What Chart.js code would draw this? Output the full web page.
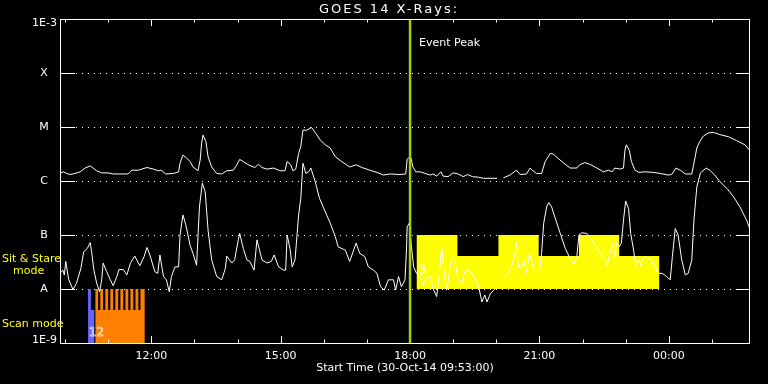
<!DOCTYPE html>
<html>
<head>
<meta charset="utf-8">
<script src="https://cdn.jsdelivr.net/npm/chart.js@4/dist/chart.umd.min.js"></script>
<style>
  html, body { margin: 0; padding: 0; background: #000; }
  canvas { display: block; background: #000; }
</style>
</head>
<body>
<canvas id="goes" width="768" height="384"></canvas>
<script>
// GOES 14 X-ray flux, 30-Oct-14 09:53 UT start. values are log10(W/m^2)
// long channel (1-8 A)
const longTimes = [
  '09:53','09:58','10:02','10:07','10:14','10:21','10:28','10:35','10:39','10:44',
  '10:51','11:00','11:07','11:16','11:28','11:33','11:42','11:54','12:03','12:10',
  '12:14','12:20','12:31','12:38','12:40','12:44','12:48','12:54','12:58','13:05',
  '13:08','13:10','13:12','13:16','13:19','13:24','13:31','13:38','13:45','13:54',
  '13:59','14:03','14:08','14:15','14:24','14:29','14:34','14:41','14:50','14:59',
  '15:06','15:09','15:14','15:17','15:21','15:25','15:28','15:31','15:36','15:43',
  '15:49','15:55','16:02','16:09','16:16','16:25','16:36','16:45','16:53','17:04',
  '17:14','17:23','17:32','17:46','17:54','17:56','17:58','18:01','18:04','18:08',
  '18:14','18:21','18:28','18:32','18:37','18:43','18:46','18:53','19:00','19:07',
  '19:14','19:20','19:27','19:35','19:42','20:01','20:05','20:10','20:19','20:28',
  '20:33','20:42','20:47','20:51','20:56','21:03','21:08','21:15','21:19','21:26',
  '21:33','21:43','21:52','21:56','22:03','22:10','22:20','22:29','22:36','22:41',
  '22:45','22:52','22:57','22:59','23:01','23:05','23:08','23:13','23:18','23:27',
  '23:38','23:48','23:59','00:04','00:10','00:16','00:23','00:32','00:35','00:39',
  '00:43','00:48','00:55','01:02','01:11','01:23','01:34','01:46','01:53'
];
const longLog = [
  -5.85,-5.83,-5.86,-5.88,-5.86,-5.83,-5.76,-5.72,-5.76,-5.81,
  -5.85,-5.85,-5.87,-5.87,-5.87,-5.80,-5.80,-5.75,-5.78,-5.81,
  -5.80,-5.87,-5.86,-5.83,-5.67,-5.52,-5.56,-5.64,-5.74,-5.81,
  -5.61,-5.30,-5.15,-5.27,-5.55,-5.74,-5.86,-5.87,-5.81,-5.80,
  -5.70,-5.60,-5.64,-5.70,-5.75,-5.69,-5.75,-5.78,-5.76,-5.81,
  -5.81,-5.64,-5.70,-5.81,-5.78,-5.49,-5.36,-5.06,-5.06,-5.01,
  -5.12,-5.24,-5.33,-5.39,-5.55,-5.64,-5.74,-5.70,-5.75,-5.80,
  -5.84,-5.89,-5.87,-5.88,-5.87,-5.60,-5.57,-5.56,-5.74,-5.83,
  -5.83,-5.86,-5.89,-5.87,-5.91,-5.83,-5.91,-5.92,-5.85,-5.87,
  -5.92,-5.88,-5.92,-5.93,-5.95,-5.95,null,-5.94,-5.89,-5.80,
  -5.88,-5.87,-5.76,-5.81,-5.86,-5.86,-5.64,-5.49,-5.50,-5.58,
  -5.66,-5.76,-5.76,-5.70,-5.66,-5.69,-5.76,-5.83,-5.80,-5.83,
  -5.76,-5.78,-5.76,-5.43,-5.33,-5.43,-5.64,-5.80,-5.84,-5.83,
  -5.84,-5.86,-5.89,-5.88,-5.76,-5.80,-5.87,-5.87,-5.67,-5.39,
  -5.27,-5.17,-5.11,-5.10,-5.14,-5.18,-5.25,-5.33,-5.44
];

// short channel (0.5-4 A)
const shortTimes = [
  '09:53','09:57','09:59','10:01','10:05','10:11','10:16','10:22','10:26','10:31',
  '10:35','10:37','10:40','10:44','10:48','10:51','10:53','10:58','11:03','11:07',
  '11:12','11:15','11:21','11:26','11:31','11:37','11:44','11:50','11:54','11:58',
  '12:05','12:09','12:12','12:17','12:21','12:25','12:28','12:33','12:38','12:40',
  '12:44','12:48','12:54','12:58','13:03','13:07','13:11','13:15','13:19','13:24',
  '13:31','13:38','13:43','13:45','13:52','13:56','14:01','14:03','14:08','14:13',
  '14:17','14:23','14:27','14:34','14:41','14:47','14:51','14:57','15:04','15:07',
  '15:09','15:13','15:16','15:20','15:25','15:28','15:31','15:35','15:39','15:42',
  '15:48','15:54','16:02','16:09','16:16','16:20','16:30','16:36','16:45','16:50',
  '16:57','17:02','17:09','17:14','17:19','17:24','17:30','17:37','17:40','17:44',
  '17:48','17:53','17:55','17:56','17:59','18:02','18:05','18:09','18:14','18:18',
  '18:23','18:28','18:32','18:37','18:41','18:44','18:47','18:51','18:56','18:58',
  '19:03','19:07','19:12','19:16','19:21','19:26','19:30','19:35','19:40','19:44',
  '19:47','19:52','19:57','20:01','20:05','20:10','20:17','20:21','20:26','20:28',
  '20:31','20:35','20:39','20:42','20:46','20:49','20:52','20:56','21:00','21:03',
  '21:06','21:10','21:13','21:17','21:22','21:29','21:36','21:43','21:48','21:52',
  '21:55','21:59','22:06','22:13','22:20','22:27','22:31','22:34','22:38','22:42',
  '22:45','22:47','22:51','22:54','22:57','23:00','23:04','23:07','23:11','23:14',
  '23:18','23:21','23:25','23:30','23:34','23:41','23:45','23:51','23:57','00:02',
  '00:05','00:09','00:13','00:18','00:23','00:27','00:32','00:35','00:39','00:44',
  '00:52','00:57','01:04','01:11','01:21','01:30','01:39','01:48','01:53'
];
const shortLog = [
  -7.71,-7.65,-7.74,-7.49,-7.82,-8.01,-7.89,-7.62,-7.31,-7.25,
  -7.14,-7.31,-7.64,-7.89,-8.05,-7.83,-7.52,-7.68,-7.83,-7.94,
  -7.77,-7.64,-7.64,-7.74,-7.52,-7.39,-7.57,-7.40,-7.23,-7.37,
  -7.68,-7.71,-7.37,-7.77,-7.83,-8.05,-7.77,-7.59,-7.59,-7.00,
  -6.63,-6.81,-7.19,-7.34,-7.56,-6.48,-6.04,-6.20,-6.91,-7.46,
  -7.77,-7.83,-7.62,-7.39,-7.52,-7.46,-7.09,-6.97,-7.25,-7.46,
  -7.49,-7.65,-7.09,-7.46,-7.52,-7.49,-7.37,-7.59,-7.65,-7.65,
  -7.00,-7.25,-7.59,-7.46,-6.63,-6.32,-5.67,-5.86,-5.83,-5.76,
  -6.01,-6.32,-6.57,-6.78,-7.03,-7.22,-7.28,-7.49,-7.15,-7.34,
  -7.40,-7.59,-7.65,-7.71,-7.96,-8.02,-7.83,-7.83,-8.02,-7.77,
  -7.96,-7.83,-7.28,-6.85,-6.78,-7.22,-7.59,-7.71,-7.77,-7.93,
  -7.80,-7.77,-7.99,-8.14,-7.71,-7.19,-7.65,-8.02,-7.59,-7.43,
  -7.52,-7.83,-7.89,-7.68,-7.65,-7.71,-7.80,-7.93,-8.24,-8.11,
  -8.24,-8.08,-8.02,-7.96,null,-7.80,-7.71,-7.59,-7.34,-7.12,
  -7.59,-7.59,-7.49,-7.71,-7.34,-7.46,-7.62,-7.68,-7.68,-7.34,
  -6.78,-6.48,-6.40,-6.48,-6.69,-6.97,-7.25,-7.44,-7.54,-7.40,
  -7.00,-6.96,-6.97,-7.09,-7.25,-7.40,-7.46,-7.56,-7.34,-7.15,
  -7.40,-7.12,-7.22,-7.15,-6.72,-6.37,-6.51,-6.97,-7.28,-7.56,
  -7.46,-7.56,-7.40,-7.46,-7.43,-7.59,-7.71,-7.71,-7.77,-7.83,
  -7.40,-6.88,-7.00,-7.46,-7.74,-7.71,-7.46,-6.72,-6.11,-5.85,
  -5.76,-5.80,-5.89,-6.01,-6.14,-6.29,-6.48,-6.72,-6.89
];

// observing mode bars (step starts, bar top as log10)
const sitStareTimes = ['18:09','19:06','20:03','20:59','21:55','22:51','23:47'];
const sitStareTop   = [-7, -7.39, -7, -7.39, -7, -7.39, -7.39];
const scanTimes = ['10:42','10:46','10:49','10:53','10:56','11:00','11:03','11:07','11:10','11:14',
                   '11:17','11:21','11:24','11:28','11:31','11:35','11:38','11:42','11:45','11:51'];
const scanTop   = [-8,-8.39,-8,-8.39,-8,-8.39,-8,-8.39,-8,-8.39,
                   -8,-8.39,-8,-8.39,-8,-8.39,-8,-8.39,-8,-8.39];
const scanBlueTimes = ['10:32','10:36','10:41'];
const scanBlueTop   = [-8, -8.39, -8.39];

const eventPeak = '18:00';
const hourTicks = [10,11,12,13,14,15,16,17,18,19,20,21,22,23,24,25];
const decadeTicks = [-9,-8,-7,-6,-5,-4,-3];
const decadeLabels = ['1E-9','A','B','C','M','X','1E-3'];

const toHours = s => {
  const [h, m] = s.split(':').map(Number);
  let v = h + m / 60;
  if (v < 9) v += 24;   // past midnight
  return v;
};
const points = (times, logs) => times.map((t, i) => ({
  x: toHours(t),
  y: logs[i] === null ? null : Math.pow(10, logs[i])
}));

const FONT = '"DejaVu Sans", sans-serif';

const axesPlugin = {
  id: 'goesAxes',
  beforeDatasetsDraw(chart) {
    const { ctx, chartArea: a, scales: { y } } = chart;
    ctx.save();
    ctx.strokeStyle = '#fff';
    ctx.lineWidth = 1;
    ctx.setLineDash([1, 5]);
    decadeTicks.slice(1, -1).forEach(d => {
      const py = Math.round(y.getPixelForValue(Math.pow(10, d))) + 0.5;
      ctx.beginPath();
      ctx.moveTo(a.left + 16, py);
      ctx.lineTo(a.right - 14, py);
      ctx.stroke();
    });
    ctx.restore();
  },
  afterDatasetsDraw(chart) {
    const { ctx, chartArea: a, scales: { x, y } } = chart;
    ctx.save();
    ctx.strokeStyle = '#fff';
    ctx.lineWidth = 1;
    ctx.strokeRect(a.left + 0.5, a.top + 0.5, a.right - a.left - 1, a.bottom - a.top);

    // y ticks, both sides
    decadeTicks.slice(1, -1).forEach(d => {
      const py = Math.round(y.getPixelForValue(Math.pow(10, d))) + 0.5;
      ctx.beginPath();
      ctx.moveTo(a.left, py); ctx.lineTo(a.left + 15, py);
      ctx.moveTo(a.right - 14, py); ctx.lineTo(a.right, py);
      ctx.stroke();
    });
    // x ticks, top and bottom
    hourTicks.forEach(h => {
      const px = Math.round(x.getPixelForValue(h)) + 0.5;
      const len = h % 3 === 0 ? 7 : 3.5;
      ctx.beginPath();
      ctx.moveTo(px, a.bottom); ctx.lineTo(px, a.bottom - len);
      ctx.moveTo(px, a.top); ctx.lineTo(px, a.top + len);
      ctx.stroke();
    });

    // event peak line
    const ex = x.getPixelForValue(toHours(eventPeak));
    ctx.strokeStyle = '#a0cf10';
    ctx.lineWidth = 2.5;
    ctx.beginPath();
    ctx.moveTo(ex, a.top + 1);
    ctx.lineTo(ex, a.bottom);
    ctx.stroke();

    // texts
    ctx.fillStyle = '#fff';
    ctx.textBaseline = 'middle';
    ctx.font = '11px ' + FONT;
    ctx.textAlign = 'center';
    hourTicks.filter(h => h % 3 === 0).forEach(h => {
      const lab = String(h % 24).padStart(2, '0') + ':00';
      ctx.fillText(lab, x.getPixelForValue(h), a.bottom + 13);
    });
    ctx.fillText('Start Time (30-Oct-14 09:53:00)', (a.left + a.right) / 2, a.bottom + 25);

    decadeTicks.forEach((d, i) => {
      let py = y.getPixelForValue(Math.pow(10, d));
      const lab = decadeLabels[i];
      if (lab.length > 1) {
        ctx.textAlign = 'right';
        if (i === 0) py -= 3;
        if (i === decadeTicks.length - 1) py += 4;
        ctx.fillText(lab, a.left - 3, py);
      } else {
        ctx.textAlign = 'center';
        ctx.fillText(lab, a.left - 16, py + 0.5);
      }
    });

    ctx.textAlign = 'left';
    ctx.fillText('Event Peak', ex + 9, a.top + 24);

    ctx.fillStyle = '#ffff00';
    ctx.fillText('Sit & Stare', 2, 259);
    ctx.fillText('mode', 13, 271);
    ctx.fillText('Scan mode', 2, 324);

    ctx.strokeStyle = '#fff';
    ctx.lineWidth = 0.6;
    ctx.font = '12px ' + FONT;
    ctx.strokeText('12', x.getPixelForValue(toHours('10:33')), 333);
    ctx.strokeText('3', x.getPixelForValue(toHours('18:12')), 271);

    ctx.fillStyle = '#fff';
    ctx.textAlign = 'center';
    ctx.font = '13px ' + FONT;
    if ('letterSpacing' in ctx) ctx.letterSpacing = '2px';
    ctx.fillText('GOES 14 X-Rays:', 389, 10);
    ctx.restore();
  }
};

new Chart(document.getElementById('goes'), {
  type: 'line',
  data: {
    datasets: [
      {
        data: points(longTimes, longLog),
        borderColor: '#fff', borderWidth: 1, spanGaps: false, order: 1
      },
      {
        data: points(shortTimes, shortLog),
        borderColor: '#fff', borderWidth: 1, spanGaps: false, order: 1
      },
      {
        data: points(sitStareTimes, sitStareTop),
        stepped: 'before', fill: { value: 1e-8 },
        backgroundColor: '#ffff00', borderColor: 'rgba(0,0,0,0)', borderWidth: 0, order: 2
      },
      {
        data: points(scanTimes, scanTop),
        stepped: 'before', fill: { value: 1e-9 },
        backgroundColor: '#ff8000', borderColor: 'rgba(0,0,0,0)', borderWidth: 0, order: 2
      },
      {
        data: points(scanBlueTimes, scanBlueTop),
        stepped: 'before', fill: { value: 1e-9 },
        backgroundColor: '#6464ff', borderColor: 'rgba(0,0,0,0)', borderWidth: 0, order: 3
      }
    ]
  },
  options: {
    responsive: false,
    animation: false,
    events: [],
    devicePixelRatio: 1,
    layout: { padding: { left: 60, right: 18, top: 19, bottom: 41 } },
    elements: { point: { radius: 0 }, line: { tension: 0 } },
    plugins: { legend: { display: false }, tooltip: { enabled: false } },
    scales: {
      x: { type: 'linear', display: false, min: 9 + 53 / 60, max: 25 + 53 / 60 },
      y: { type: 'logarithmic', display: false, min: 1e-9, max: 1e-3 }
    }
  },
  plugins: [axesPlugin]
});
</script>
</body>
</html>
